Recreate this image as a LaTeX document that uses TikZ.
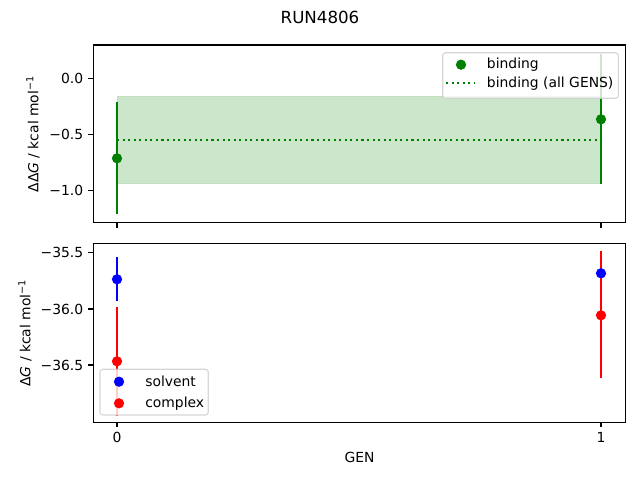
\documentclass[tikz,border=0pt]{standalone}
\usepackage{fontspec}
\setmainfont{DejaVu Sans}
\begin{document}
\begin{tikzpicture}[x=0.72pt,y=-0.72pt,
  spine/.style={line width=0.8pt,black},
  tickmark/.style={line width=0.8pt,black},
  ticklab/.style={font=\fontsize{10}{12}\selectfont,inner sep=0pt},
  ebar/.style={line width=1.5pt},
  legbox/.style={draw=black!20,fill=white,fill opacity=0.8,draw opacity=0.8,rounded corners=2pt,line width=0.8pt},
  legtext/.style={font=\fontsize{10}{12}\selectfont,anchor=west,inner sep=0pt}]
\useasboundingbox (0,0) rectangle (640,480);
\definecolor{mplgreen}{RGB}{0,128,0}
\definecolor{bandfill}{RGB}{204,230,204}
\def\mr{3.7pt}
% title
\node[font=\fontsize{12}{14}\selectfont] (title) at (320,17) {RUN4806};
% ===== top axes =====
\fill[bandfill] (117,96) rectangle (601,183.7);
\draw[line width=0.6pt,mplgreen!25] (117,96) rectangle (601,183.7);
\draw[ebar,mplgreen] (117,101.7) -- (117,214.3);
\draw[ebar,mplgreen] (601,54.3) -- (601,184.3);
\draw[line width=1.5pt,mplgreen,dash pattern=on 1.5pt off 2.5pt] (117,139.7) -- (601,139.7);
\fill[mplgreen] (117,158.3) circle (\mr);
\fill[mplgreen] (601,119.3) circle (\mr);
\draw[spine] (93.3,45) rectangle (625.7,222.7);
\foreach \v/\y in {0.0/78.3,−0.5/134.3,−1.0/190.3}{
  \draw[tickmark] (93.3,\y) -- (88.4,\y);
  \node[ticklab,anchor=east] at (83.5,\y) {\v};
}
\foreach \x in {117,601}{\draw[tickmark] (\x,222.7) -- (\x,227.6);}
\node[font=\fontsize{10}{12}\selectfont,rotate=90] (ylab1) at (33,134) {ΔΔ\textit{G} / kcal mol\textsuperscript{−1}};
% legend top
\draw[legbox] (442.7,52.7) rectangle (618.3,98.3);
\fill[mplgreen] (461,64.7) circle (\mr);
\draw[line width=1.5pt,mplgreen,dash pattern=on 1.5pt off 2.5pt] (446,83.3) -- (474,83.3);
\node[legtext] (l1) at (486.7,64.7) {binding};
\node[legtext] (l2) at (486.7,83.3) {binding (all GENS)};
% ===== bottom axes =====
\draw[ebar,blue] (117,257.3) -- (117,300.7);
\draw[ebar,blue] (601,260) -- (601,286);
\draw[ebar,red] (117,306.7) -- (117,415.9);
\draw[ebar,red] (601,250.7) -- (601,378.3);
\fill[blue] (117,279.3) circle (\mr);
\fill[blue] (601,273.3) circle (\mr);
\fill[red] (117,361.3) circle (\mr);
\fill[red] (601,315.3) circle (\mr);
\draw[spine] (93.3,243.3) rectangle (625.7,422.3);
\foreach \v/\y in {−35.5/252.7,−36.0/309,−36.5/365}{
  \draw[tickmark] (93.3,\y) -- (88.4,\y);
  \node[ticklab,anchor=east] at (83.5,\y) {\v};
}
\foreach \x/\t in {117/0,601/1}{
  \draw[tickmark] (\x,422.3) -- (\x,427.2);
  \node[ticklab,anchor=north] at (\x,432) {\t};
}
\node[font=\fontsize{10}{12}\selectfont,rotate=90] (ylab2) at (25,333) {Δ\textit{G} / kcal mol\textsuperscript{−1}};
\node[font=\fontsize{10}{12}\selectfont] (xlab) at (359.5,457) {GEN};
% legend bottom
\draw[legbox] (100,369.3) rectangle (208.3,415);
\fill[blue] (119,381.7) circle (\mr);
\fill[red] (119,403.3) circle (\mr);
\node[legtext] (l3) at (145,381.7) {solvent};
\node[legtext] (l4) at (145,403.3) {complex};
\end{tikzpicture}
\end{document}
